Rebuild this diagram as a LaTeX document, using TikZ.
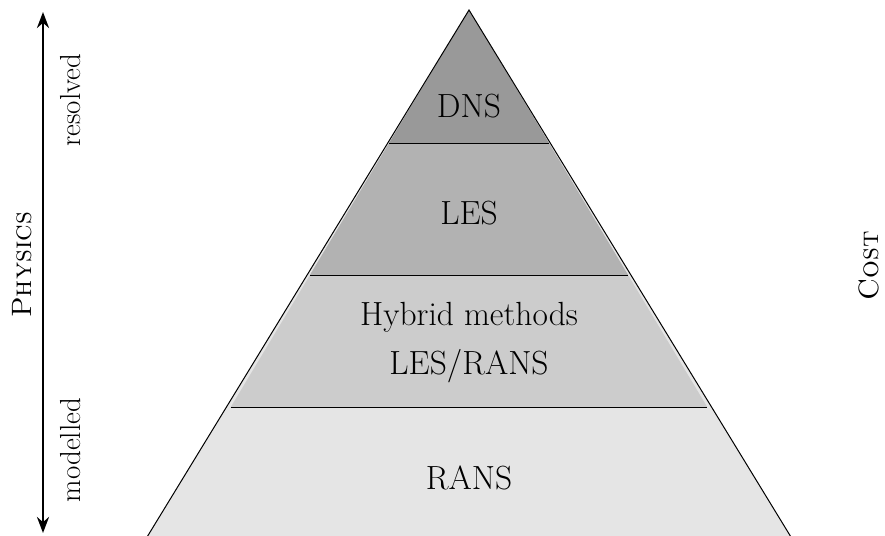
\documentclass[tikz,border=0pt]{standalone}
\usepackage{fontspec}
\usetikzlibrary{arrows.meta}
\tikzset{
  layer/.style={draw=black, line width=1pt},
  lbl/.style={font=\fontsize{33.5}{40}\selectfont, align=center, inner sep=0pt},
  side/.style={font=\fontsize{29}{34}\selectfont, rotate=90, inner sep=0pt},
  axis/.style={line width=2.8pt, {Stealth[length=16pt,width=12pt]}-{Stealth[length=16pt,width=12pt]}}
}
\begin{document}
\begin{tikzpicture}[x=1pt,y=-1pt]
\useasboundingbox (0,0) rectangle (885,535);
\begin{scope}
\clip (0,0) rectangle (885,535);
% nested triangles: apex (469,10), slope dx/dy = 0.6
\fill[black!10] (469,10) -- (469+0.6*560,560) -- (469-0.6*560,560) -- cycle;
\fill[black!20] (469,10) -- (469+0.6*397,407) -- (469-0.6*397,407) -- cycle;
\fill[black!30] (469,10) -- (469+0.6*265,275) -- (469-0.6*265,275) -- cycle;
\fill[black!40] (469,10) -- (469+0.6*133,143) -- (469-0.6*133,143) -- cycle;
\draw[layer] (469-0.6*133,143) -- (469+0.6*133,143);
\draw[layer] (469-0.6*265,275) -- (469+0.6*265,275);
\draw[layer] (469-0.6*397,407) -- (469+0.6*397,407);
\draw[layer] (469-0.6*560,560) -- (469,10) -- (469+0.6*560,560);
\end{scope}
\node[lbl] (dns) at (469,106) {DNS};
\node[lbl] (les) at (469,213) {LES};
\node[lbl] (hyb1) at (469,317) {Hybrid methods};
\node[lbl] (hyb2) at (469,366) {LES/RANS};
\node[lbl] (rans) at (469,478) {RANS};
\coordinate (top) at (43,12);
\coordinate (bot) at (43,533);
\draw[axis] (bot) -- (top);
\node[side] (res) at (71,100) {resolved};
\node[side] (mod) at (71,450) {modelled};
\node[side, font=\fontsize{28}{34}\selectfont] (phys) at (22,265) {\textsc{Physics}};
\node[side, font=\fontsize{28}{34}\selectfont] (cost) at (869,266) {\textsc{Cost}};
\end{tikzpicture}
\end{document}
